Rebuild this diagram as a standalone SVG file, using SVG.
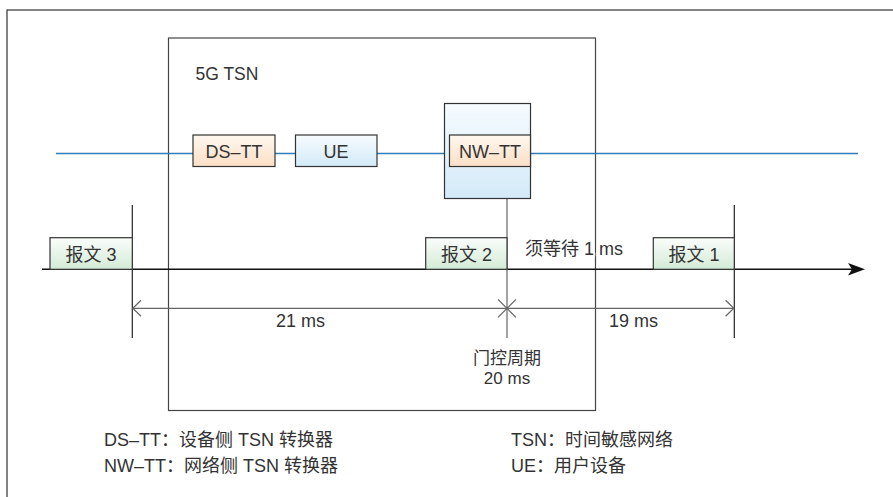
<svg xmlns="http://www.w3.org/2000/svg" width="893" height="497" viewBox="0 0 893 497">
<defs>
<linearGradient id="gOrange" x1="0" y1="0" x2="0" y2="1"><stop offset="0" stop-color="#fff7ef"/><stop offset="1" stop-color="#fbdfc6"/></linearGradient>
<linearGradient id="gBlue" x1="0" y1="0" x2="0" y2="1"><stop offset="0" stop-color="#f6fbfe"/><stop offset="1" stop-color="#d3eaf8"/></linearGradient>
<linearGradient id="gGreen" x1="0" y1="0" x2="0" y2="1"><stop offset="0" stop-color="#fbfdfb"/><stop offset="1" stop-color="#d3ebd7"/></linearGradient>
</defs>
<style>
text{font-family:"Liberation Sans","Noto Sans CJK SC",sans-serif;font-size:18px;fill:#333}
.box{stroke:#333;stroke-width:1.2}
.c{text-anchor:middle}
.halo{stroke:#fff;stroke-width:4;paint-order:stroke;stroke-linejoin:round}
.dim{stroke:#666;stroke-width:1.2;fill:none}
.blk{stroke:#222;stroke-width:1.2;fill:none}
</style>
<rect width="893" height="497" fill="#fff"/>
<rect id="frame" x="7" y="10" width="900" height="500" fill="none" stroke="#333" stroke-width="1.2"/>
<g id="tsn5g">
<rect x="168.5" y="38" width="427" height="372.5" fill="none" stroke="#444" stroke-width="1.2"/>
<text x="195.5" y="80" style="font-size:17.5px">5G TSN</text>
</g>
<g id="connectors">
<line x1="56" y1="153.5" x2="858" y2="153.5" stroke="#2f7db9" stroke-width="1.3"/>
<line x1="42" y1="269.3" x2="852" y2="269.3" stroke="#111" stroke-width="1.4"/>
<path d="M865,269.3 L848,263 L852,269.3 L848,275.6 Z" fill="#111"/>
<line class="blk" x1="132.3" y1="205" x2="132.3" y2="338"/>
<line class="blk" x1="734.3" y1="205" x2="734.3" y2="338"/>
<line class="dim" x1="507" y1="199" x2="507" y2="338"/>
<line class="dim" x1="132.3" y1="308.3" x2="734.3" y2="308.3"/>
<path class="dim" d="M141,300.3 L132.8,308.3 L141,316.3"/>
<path class="dim" d="M725.6,300.3 L733.8,308.3 L725.6,316.3"/>
<path class="dim" d="M498,299.3 L516,317.3 M516,299.3 L498,317.3"/>
</g>
<g id="ds-tt">
<rect class="box" x="193" y="135" width="82" height="31.5" fill="url(#gOrange)"/>
<text class="c" x="234" y="158">DS–TT</text>
</g>
<g id="ue">
<rect class="box" x="295.5" y="135" width="81.5" height="31.5" fill="url(#gBlue)"/>
<text class="c" x="336" y="158">UE</text>
</g>
<g id="nw-tt">
<rect class="box" x="444.5" y="103.5" width="86" height="95" fill="url(#gBlue)"/>
<rect class="box" x="449.5" y="135" width="81" height="31.5" fill="url(#gOrange)"/>
<text class="c" x="490" y="158">NW–TT</text>
</g>
<g id="packet3">
<rect class="box" x="50" y="237.7" width="82.3" height="31.6" fill="url(#gGreen)"/>
<text class="c" x="91" y="260.5">报文 3</text>
</g>
<g id="packet2">
<rect class="box" x="425.7" y="237.7" width="81.3" height="31.6" fill="url(#gGreen)"/>
<text class="c" x="466.5" y="260.5">报文 2</text>
</g>
<g id="packet1">
<rect class="box" x="653.3" y="237.7" width="81" height="31.6" fill="url(#gGreen)"/>
<text class="c" x="694" y="260.5">报文 1</text>
</g>
<g id="labels">
<text class="halo" x="525" y="255">须等待 1 ms</text>
<text class="c" x="300.5" y="327">21 ms</text>
<text class="c" x="633.5" y="327">19 ms</text>
<text class="c" x="507" y="364" style="font-size:17px">门控周期</text>
<text class="c" x="507" y="383.5" style="font-size:17px">20 ms</text>
</g>
<g id="legend">
<text x="104" y="446">DS–TT：设备侧 TSN 转换器</text>
<text x="104" y="472">NW–TT：网络侧 TSN 转换器</text>
<text x="511" y="446">TSN：时间敏感网络</text>
<text x="511" y="472">UE：用户设备</text>
</g>
</svg>
